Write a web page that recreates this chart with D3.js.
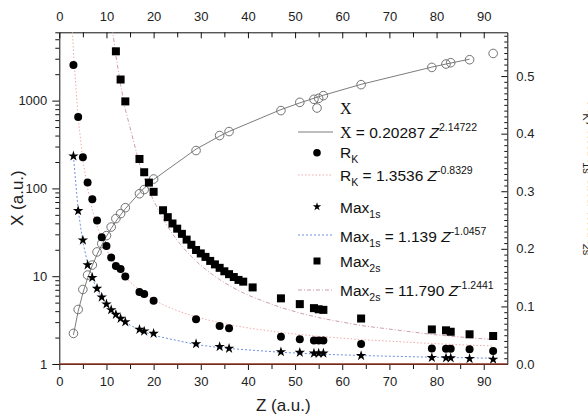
<!DOCTYPE html>
<html>
<head>
<meta charset="utf-8">
<script src="https://cdn.jsdelivr.net/npm/d3@7/dist/d3.min.js"></script>
<style>
  body { margin: 0; background: #fff; }
  svg { font-family: "Liberation Sans", Arial, sans-serif; }
</style>
</head>
<body>
<svg id="chart" width="588" height="420"></svg>
<script>
// Z values and read-off values for each series
var zX = [3, 4, 5, 6, 7, 8, 9, 10, 11, 12, 13, 14, 17, 18, 20, 29, 34, 36, 47, 51, 54, 55, 56, 64, 79, 82, 83, 87, 92];
var xVals = [2.23, 4.18, 7.06, 10.3, 13.4, 18.9, 23.5, 29, 36.3, 45.3, 51.6, 60.3, 87, 97, 128, 270, 400, 444, 770, 956, 1035, 1062, 1140, 1520, 2389, 2612, 2703, 2924, 3445];

var zRk = zX;
var rkVals = [0.519, 0.429, 0.359, 0.315, 0.286, 0.249, 0.22, 0.205, 0.185, 0.170, 0.165, 0.152, 0.125, 0.1215, 0.11, 0.0776, 0.066, 0.062, 0.0474, 0.043, 0.041, 0.041, 0.041, 0.0347, 0.027, 0.0266, 0.0266, 0.0255, 0.0226];

var zMax1s = zX;
var max1sVals = [0.361, 0.266, 0.215, 0.172, 0.150, 0.131, 0.116, 0.104, 0.094, 0.086, 0.079, 0.073, 0.060, 0.057, 0.053, 0.035, 0.030, 0.027, 0.021, 0.020, 0.0186, 0.0186, 0.0186, 0.0144, 0.011, 0.0104, 0.0104, 0.0092, 0.008];

var zMax2s = [12, 13, 14, 17, 18, 19, 20, 22, 23, 24, 25, 26, 27, 28, 29, 30, 31, 32, 33, 34, 35, 36, 37, 38, 39, 41, 47, 51, 54, 55, 56, 64, 79, 82, 83, 87, 92];
var max2sVals = [0.543, 0.494, 0.456, 0.356, 0.333, 0.315, 0.299, 0.267, 0.255, 0.244, 0.235, 0.226, 0.216, 0.207, 0.198, 0.192, 0.186, 0.179, 0.173, 0.167, 0.161, 0.156, 0.151, 0.146, 0.143, 0.133, 0.114, 0.104, 0.097, 0.095, 0.094, 0.079, 0.060, 0.0585, 0.056, 0.0516, 0.0486];

// power law fits a*Z^b as given in the legend, with the Z range each is drawn on
var fitX = [0.20287, 2.14722], fitXRange = [3, 87];
var fitRk = [1.3536, -0.8329], fitRkRange = [2.5, 92];
var fitMax1s = [1.139, -1.0457], fitMax1sRange = [3, 92];
var fitMax2s = [11.790, -1.2441], fitMax2sRange = [11, 92];

var zTicks = [0, 10, 20, 30, 40, 50, 60, 70, 80, 90];
var leftTicks = [1, 10, 100, 1000];
var rightTicks = [0, 0.1, 0.2, 0.3, 0.4, 0.5];

var svg = d3.select("#chart");
var L = 59.3, R = 507.3, T = 32.3, B = 364;

var x = d3.scaleLinear().domain([0, 95]).range([L, R]);
var yL = d3.scaleLog().domain([1, 6000]).range([B, T]);
var yR = d3.scaleLinear().domain([0, 0.576]).range([B, T]);

svg.append("defs").append("clipPath").attr("id", "plotclip")
  .append("rect").attr("x", L).attr("y", T).attr("width", R - L).attr("height", B - T);

// ---- axes ----
function styleAxis(g, size) {
  g.selectAll("text").attr("font-size", size).attr("fill", "#222")
    .attr("font-family", "'Liberation Sans', Arial, sans-serif");
  g.selectAll("line").attr("stroke", "#111");
  g.select(".domain").attr("stroke", "#111");
}
function minorOnly(g) {
  g.select(".domain").remove();
  g.selectAll("line").attr("stroke", "#111");
}

var minorZ = d3.range(5, 95, 10);

// bottom
svg.append("g").attr("transform", `translate(0,${B})`)
  .call(d3.axisBottom(x).tickValues(minorZ).tickFormat("").tickSize(5).tickSizeOuter(0))
  .call(minorOnly);
var gb = svg.append("g").attr("transform", `translate(0,${B})`)
  .call(d3.axisBottom(x).tickValues(zTicks).tickFormat(d3.format("d")).tickSize(6).tickPadding(7).tickSizeOuter(0));
styleAxis(gb, 13);

// top (ticks inward)
svg.append("g").attr("transform", `translate(0,${T})`)
  .call(d3.axisTop(x).tickValues(minorZ).tickFormat("").tickSize(-5).tickSizeOuter(0))
  .call(minorOnly);
var gt = svg.append("g").attr("transform", `translate(0,${T})`)
  .call(d3.axisTop(x).tickValues(zTicks).tickFormat(d3.format("d")).tickSize(-6).tickPadding(11).tickSizeOuter(0));
styleAxis(gt, 13);

// left log axis
var minorL = yL.ticks().filter(function (d) { return leftTicks.indexOf(d) < 0; });
svg.append("g").attr("transform", `translate(${L},0)`)
  .call(d3.axisLeft(yL).tickValues(minorL).tickFormat("").tickSize(4).tickSizeOuter(0))
  .call(minorOnly);
var gl = svg.append("g").attr("transform", `translate(${L},0)`)
  .call(d3.axisLeft(yL).tickValues(leftTicks).tickFormat(d3.format("d")).tickSize(7).tickPadding(5).tickSizeOuter(0));
styleAxis(gl, 13);

// right linear axis (ticks inward)
var minorR = d3.range(0, 0.575, 0.01).filter(function (d) { return Math.abs(d * 10 - Math.round(d * 10)) > 1e-6; });
svg.append("g").attr("transform", `translate(${R},0)`)
  .call(d3.axisRight(yR).tickValues(minorR).tickFormat("").tickSize(-3).tickSizeOuter(0))
  .call(minorOnly);
var gr = svg.append("g").attr("transform", `translate(${R},0)`)
  .call(d3.axisRight(yR).tickValues(rightTicks).tickFormat(d3.format(".1f")).tickSize(-6).tickPadding(9).tickSizeOuter(0));
styleAxis(gr, 13);

// bottom frame line is drawn in a brownish red
svg.append("line").attr("x1", L).attr("x2", R).attr("y1", B).attr("y2", B)
  .attr("stroke", "#8e3324").attr("stroke-width", 1.6);

// axis titles
svg.append("text").attr("x", (L + R) / 2).attr("y", 411).attr("text-anchor", "middle")
  .attr("font-size", 17).attr("fill", "#222").text("Z (a.u.)");
svg.append("text").attr("transform", `translate(23,${(T + B) / 2}) rotate(-90)`)
  .attr("text-anchor", "middle").attr("font-size", 17).attr("fill", "#222").text("X (a.u.)");

// right title, mostly cut off by the page edge (as in the original)
var rt = svg.append("text").attr("transform", `translate(588,101) rotate(90)`)
  .attr("font-size", 17).attr("fill", "#222");
rt.append("tspan").text("R");
rt.append("tspan").attr("font-size", 11).attr("dy", 5).text("K");
rt.append("tspan").attr("dy", -5).text(", Max");
rt.append("tspan").attr("font-size", 11).attr("dy", 5).text("1s");
rt.append("tspan").attr("dy", -5).text(" and Max");
rt.append("tspan").attr("font-size", 11).attr("dy", 5).text("2s");

// ---- fits ----
function fitPoints(fit, range, zs) {
  var pts = [range[0]].concat(zs.filter(function (z) { return z > range[0] && z < range[1]; }), [range[1]]);
  return pts.map(function (z) { return [z, fit[0] * Math.pow(z, fit[1])]; });
}
var plot = svg.append("g").attr("clip-path", "url(#plotclip)");

var lineL = d3.line().x(function (d) { return x(d[0]); }).y(function (d) { return yL(d[1]); });
var lineR = d3.line().x(function (d) { return x(d[0]); }).y(function (d) { return yR(d[1]); });

plot.append("path").attr("d", lineR(fitPoints(fitRk, fitRkRange, zMax2s.concat(zRk).sort(d3.ascending))))
  .attr("fill", "none").attr("stroke", "#f3a9a9").attr("stroke-width", 1).attr("stroke-dasharray", "1.5,2");
plot.append("path").attr("d", lineR(fitPoints(fitMax2s, fitMax2sRange, zMax2s)))
  .attr("fill", "none").attr("stroke", "#cf9bb0").attr("stroke-width", 1).attr("stroke-dasharray", "4,2,1,2");
plot.append("path").attr("d", lineR(fitPoints(fitMax1s, fitMax1sRange, zMax1s)))
  .attr("fill", "none").attr("stroke", "#6f8fe0").attr("stroke-width", 1).attr("stroke-dasharray", "2,2");
plot.append("path").attr("d", lineL(fitPoints(fitX, fitXRange, zX)))
  .attr("fill", "none").attr("stroke", "#7c7c7c").attr("stroke-width", 1);

// ---- markers ----
plot.selectAll(".xpt").data(d3.zip(zX, xVals)).enter().append("circle")
  .attr("cx", function (d) { return x(d[0]); }).attr("cy", function (d) { return yL(d[1]); })
  .attr("r", 4.3).attr("fill", "none").attr("stroke", "#727272").attr("stroke-width", 1);

plot.selectAll(".rk").data(d3.zip(zRk, rkVals)).enter().append("circle")
  .attr("cx", function (d) { return x(d[0]); }).attr("cy", function (d) { return yR(d[1]); })
  .attr("r", 4).attr("fill", "#000");

var sq = 8;
plot.selectAll(".m2").data(d3.zip(zMax2s, max2sVals)).enter().append("rect")
  .attr("x", function (d) { return x(d[0]) - sq / 2; }).attr("y", function (d) { return yR(d[1]) - sq / 2; })
  .attr("width", sq).attr("height", sq).attr("fill", "#000");

var star = d3.symbol().type(d3.symbolStar).size(34);
plot.selectAll(".m1").data(d3.zip(zMax1s, max1sVals)).enter().append("path")
  .attr("d", star)
  .attr("transform", function (d) { return `translate(${x(d[0])},${yR(d[1])})`; })
  .attr("fill", "#000");

// ---- legend ----
var lg = svg.append("g").attr("font-size", 15.5).attr("fill", "#111");
var symX = 317, lineX0 = 298, lineX1 = 333, textX = 340;

function addText(y, parts) {
  var t = lg.append("text").attr("x", textX).attr("y", y);
  parts.forEach(function (p) {
    var s = t.append("tspan").text(p.t);
    if (p.serif) s.attr("font-family", "'Liberation Serif', 'Times New Roman', serif").attr("font-size", 16);
    if (p.it) s.attr("font-style", "italic");
    if (p.sub) s.attr("font-size", 10.5).attr("dy", 5);
    if (p.sup) s.attr("font-size", 10.5).attr("dy", -7);
    if (p.dy) s.attr("dy", p.dy);
  });
}
function legendLine(y, color, dash) {
  lg.append("line").attr("x1", lineX0).attr("x2", lineX1).attr("y1", y).attr("y2", y)
    .attr("stroke", color).attr("stroke-width", 1).attr("stroke-dasharray", dash);
}

lg.append("circle").attr("cx", symX).attr("cy", 108).attr("r", 4.3)
  .attr("fill", "none").attr("stroke", "#727272");
addText(114, [{ t: "X", serif: true }]);

legendLine(132, "#7c7c7c", null);
addText(137.5, [{ t: "X", serif: true }, { t: " = 0.20287 " }, { t: "Z", it: true }, { t: "2.14722", sup: true }]);

lg.append("circle").attr("cx", symX).attr("cy", 152.7).attr("r", 3.8).attr("fill", "#000");
addText(157.5, [{ t: "R" }, { t: "K", sub: true }]);

legendLine(175, "#f3a9a9", "1.5,2");
addText(180.5, [{ t: "R" }, { t: "K", sub: true }, { t: " = 1.3536 ", dy: -5 }, { t: "Z", it: true }, { t: "-0.8329", sup: true }]);

lg.append("path").attr("d", d3.symbol().type(d3.symbolStar).size(22))
  .attr("transform", `translate(${symX},206.7)`).attr("fill", "#000");
addText(212.5, [{ t: "Max" }, { t: "1s", sub: true }]);

legendLine(235, "#6f8fe0", "2,2");
addText(241.5, [{ t: "Max" }, { t: "1s", sub: true }, { t: " = 1.139 ", dy: -5 }, { t: "Z", it: true }, { t: "-1.0457", sup: true }]);

lg.append("rect").attr("x", symX - 3.5).attr("y", 261 - 3.5).attr("width", 7).attr("height", 7).attr("fill", "#000");
addText(266.5, [{ t: "Max" }, { t: "2s", sub: true }]);

legendLine(290, "#cf9bb0", "4,2,1,2");
addText(295.5, [{ t: "Max" }, { t: "2s", sub: true }, { t: " = 11.790 ", dy: -5 }, { t: "Z", it: true }, { t: "-1.2441", sup: true }]);
</script>
</body>
</html>
